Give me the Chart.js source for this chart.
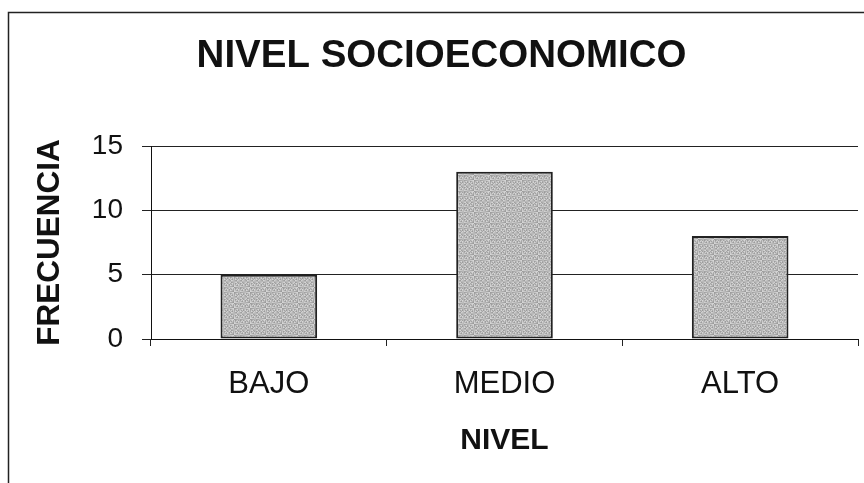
<!DOCTYPE html>
<html lang="es">
<head>
  <meta charset="UTF-8" />
  <title>Nivel socioeconomico</title>
  <script src="https://cdn.jsdelivr.net/npm/chart.js"></script>
  <style>
    html, body { margin: 0; padding: 0; background: #ffffff; }
    #grafico { position: absolute; left: 0; top: 0; }
  </style>
</head>
<body>
<canvas id="grafico" width="864" height="483"></canvas>

<script>
const niveles = ['BAJO', 'MEDIO', 'ALTO'];
const frecuencias = [5, 13, 8];
const ticksY = [0, 5, 10, 15];

const fuente = '"Liberation Sans", Arial, sans-serif';

// textura gris de las barras (patron fijo, no aleatorio)
const tex = document.createElement('canvas');
tex.width = 16;
tex.height = 16;
const tctx = tex.getContext('2d');
for (let i = 0; i < 16; i++) {
  for (let j = 0; j < 16; j++) {
    const v = 155 + ((i * 37 + j * 91 + i * j * 13) % 11) * 6;
    tctx.fillStyle = `rgb(${v},${v},${v})`;
    tctx.fillRect(i, j, 1, 1);
  }
}

// marco exterior (solo borde izquierdo y superior visibles)
const marco = {
  id: 'marco',
  beforeDraw(chart) {
    const { ctx } = chart;
    ctx.save();
    ctx.fillStyle = '#ffffff';
    ctx.fillRect(0, 0, chart.width, chart.height);
    ctx.strokeStyle = '#222222';
    ctx.lineWidth = 1.5;
    ctx.beginPath();
    ctx.moveTo(8.5, chart.height);
    ctx.lineTo(8.5, 12.5);
    ctx.lineTo(chart.width, 12.5);
    ctx.stroke();
    ctx.restore();
  }
};

const ctx = document.getElementById('grafico').getContext('2d');
const relleno = ctx.createPattern(tex, 'repeat');

new Chart(ctx, {
  type: 'bar',
  data: {
    labels: niveles,
    datasets: [{
      label: 'Frecuencia',
      data: frecuencias,
      backgroundColor: relleno,
      borderColor: '#222222',
      borderWidth: 2,
      borderSkipped: false,
      categoryPercentage: 1,
      barPercentage: 0.41
    }]
  },
  options: {
    responsive: false,
    animation: false,
    devicePixelRatio: 1,
    layout: { padding: { left: 25, right: 6, top: 0, bottom: 0 } },
    plugins: {
      legend: { display: false },
      tooltip: { enabled: false },
      title: {
        display: true,
        text: 'NIVEL SOCIOECONOMICO',
        color: '#111111',
        font: { family: fuente, size: 38.5, weight: 'bold' },
        padding: { top: 33.4, bottom: 66.5 }
      }
    },
    scales: {
      x: {
        afterFit: (s) => { s.height = 144; },
        grid: {
          offset: true,
          drawOnChartArea: false,
          drawTicks: true,
          tickLength: 7,
          color: '#222222'
        },
        border: { color: '#111111', width: 1 },
        ticks: {
          color: '#111111',
          padding: 20,
          font: { family: fuente, size: 31 }
        },
        title: {
          display: true,
          text: 'NIVEL',
          color: '#111111',
          font: { family: fuente, size: 30, weight: 'bold' },
          padding: { top: 0, bottom: 24 }
        }
      },
      y: {
        min: ticksY[0],
        max: ticksY[ticksY.length - 1],
        afterFit: (s) => { s.width = 126; },
        afterBuildTicks: (s) => { s.ticks = ticksY.map(v => ({ value: v })); },
        grid: {
          color: '#222222',
          lineWidth: 1,
          tickLength: 9
        },
        border: { color: '#111111', width: 1 },
        ticks: {
          color: '#111111',
          padding: 19,
          font: { family: fuente, size: 28 }
        },
        title: {
          display: true,
          text: 'FRECUENCIA',
          color: '#111111',
          font: { family: fuente, size: 31.5, weight: 'bold' },
          padding: { top: 6, bottom: 0 }
        }
      }
    }
  },
  plugins: [marco]
});
</script>
</body>
</html>
